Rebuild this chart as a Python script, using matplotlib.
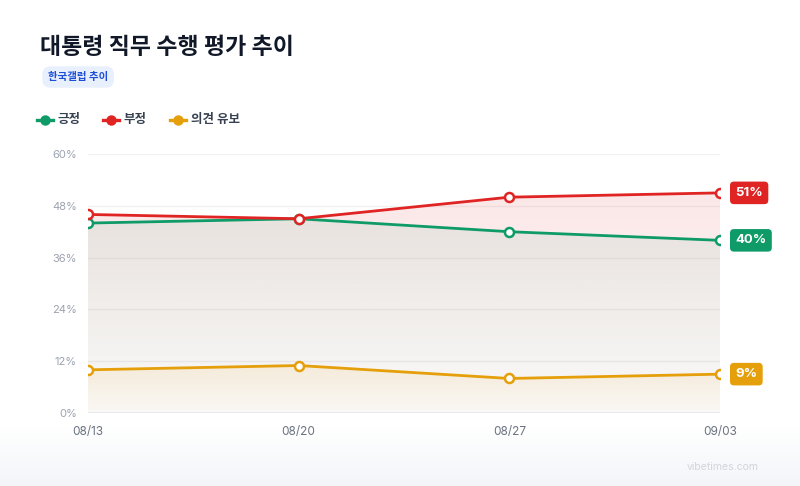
import numpy as np
import matplotlib.pyplot as plt
from matplotlib.colors import to_rgb

plt.rcParams['font.family'] = ['Inter', 'Noto Sans CJK KR', 'DejaVu Sans']

# data
dates = ["08/13", "08/20", "08/27", "09/03"]
positive = [44, 45, 42, 40]
negative = [46, 45, 50, 51]
undecided = [10, 11, 8, 9]
series_names = ["긍정", "부정", "의견 유보"]
colors = ["#0f9b68", "#e02424", "#e59f0a"]
yticks = [0, 12, 24, 36, 48, 60]

fig = plt.figure(figsize=(8, 4.86), dpi=100)

# background with soft gradient at the bottom
bg = fig.add_axes([0, 0, 1, 1], zorder=-10)
bg.set_axis_off()
grad = np.linspace(0, 1, 486)[:, None]
top = np.array([1.0, 1.0, 1.0])
bot = np.array(to_rgb("#f3f5f9"))
t = np.clip(grad / 0.12, 0, 1)  # row 0 is bottom
img = bot * (1 - t[..., None]) + top * t[..., None]
img = np.repeat(img, 2, axis=1)
bg.imshow(img, aspect='auto', extent=[0, 1, 0, 1], origin='lower')
bg.set_xlim(0, 1)
bg.set_ylim(0, 1)

ax = fig.add_axes([0.11, 0.1502, 0.79, 0.5329])
ax.set_facecolor("none")
x = np.arange(len(dates))
all_series = [positive, negative, undecided]

# gradient fills under each line (red, green, orange)
fill_alpha = [0.11, 0.085, 0.11]
for vals, c, amax in zip([negative, positive, undecided],
                         [colors[1], colors[0], colors[2]], fill_alpha):
    rgb = to_rgb(c)
    vmax = max(vals)
    alpha = np.linspace(0.015, amax, 100)[:, None]
    g = np.zeros((100, 2, 4))
    g[..., :3] = rgb
    g[..., 3] = alpha
    poly = ax.fill_between(x, vals, 0, color='none', lw=0)
    im = ax.imshow(g, aspect='auto', extent=[x[0], x[-1], 0, vmax],
                   origin='lower', zorder=1)
    im.set_clip_path(poly.get_paths()[0], transform=ax.transData)

for vals, c in zip(all_series, colors):
    ax.plot(x, vals, color=c, lw=2.0, zorder=3, solid_capstyle='round',
            marker='o', ms=6.5, mfc='white', mec=c, mew=1.8)

ax.set_xlim(x[0], x[-1])
ax.set_ylim(0, 60)
ax.set_yticks(yticks)
ax.set_yticklabels([f"{v}%" for v in yticks])
ax.set_xticks(x)
ax.set_xticklabels(dates)
for v in yticks[1:]:
    ax.axhline(v, color="#f1f1f1", lw=1, zorder=0.5)
ax.axhline(0, color="#e5e7eb", lw=1.2, zorder=2)
for s in ax.spines.values():
    s.set_visible(False)
ax.tick_params(axis='y', length=0, pad=8, labelsize=8, labelcolor="#9ca3af")
ax.tick_params(axis='x', length=0, pad=9, labelsize=8.5, labelcolor="#6b7280")
ax.margins(x=0)

# end labels
for vals, c in zip(all_series, colors):
    xp, yp = x[-1], vals[-1]
    ax.annotate(f"{yp}%", (xp, yp), xytext=(11, 0), textcoords='offset points',
                ha='left', va='center', color='white', fontsize=9.5, fontweight='bold',
                bbox=dict(boxstyle="round,pad=0.4,rounding_size=0.3", fc=c, ec='none'),
                annotation_clip=False, zorder=5)

# title and badge
fig.text(40 / 800, 1 - 48 / 486, "대통령 직무 수행 평가 추이", fontsize=16.5,
         fontweight='bold', color="#111827", va='center', ha='left')
fig.text(48 / 800, 1 - 77 / 486, "한국갤럽 추이", fontsize=7.5, fontweight='bold',
         color="#1d4ed8", va='center', ha='left',
         bbox=dict(boxstyle="round,pad=0.55,rounding_size=0.8", fc="#e8effd", ec='none'))

# legend
lx = [37, 103, 170]
for xx, name, c in zip(lx, series_names, colors):
    fig.add_artist(plt.Line2D([xx / 800, (xx + 16) / 800], [1 - 120 / 486] * 2,
                              color=c, lw=2.4, transform=fig.transFigure))
    fig.add_artist(plt.Line2D([(xx + 8) / 800], [1 - 120 / 486], marker='o', ms=6.5,
                              color=c, transform=fig.transFigure))
    fig.text((xx + 21) / 800, 1 - 120 / 486, name, fontsize=9, fontweight='bold',
             color="#374151", va='center', ha='left')

fig.text(759 / 800, 1 - 467 / 486, "vibetimes.com", fontsize=7.5, color="#d1d5db",
         ha='right', va='center')

fig.savefig("out.png", dpi=100)
